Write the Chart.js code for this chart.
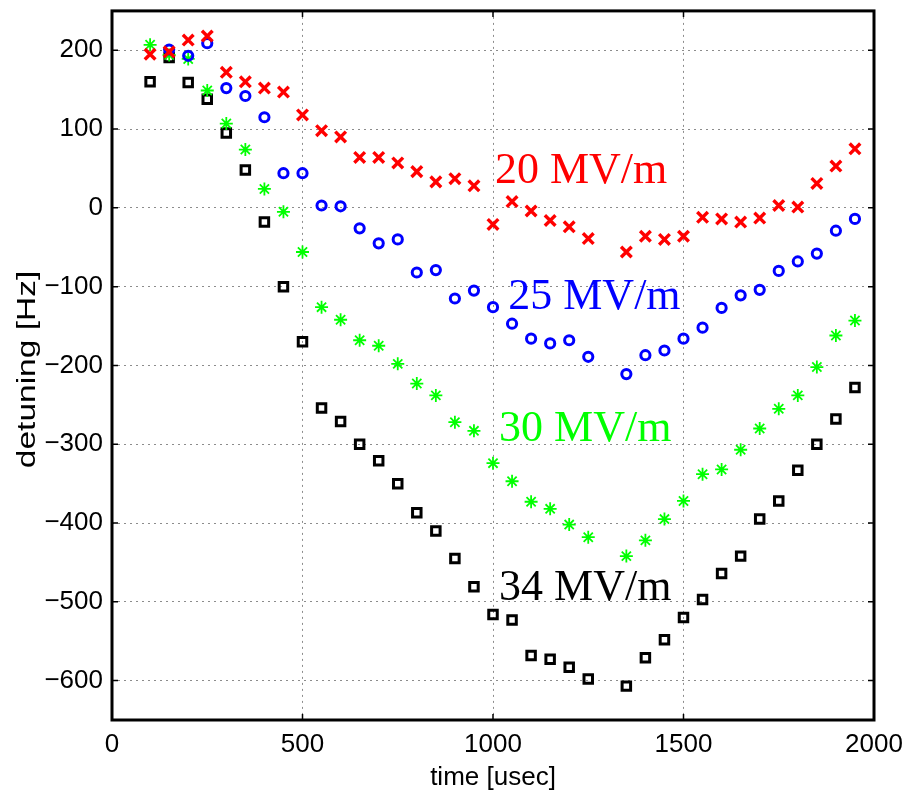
<!DOCTYPE html>
<html>
<head>
<meta charset="utf-8">
<script src="https://cdn.jsdelivr.net/npm/chart.js@4.4.0/dist/chart.umd.min.js"></script>
<style>
  html, body { margin: 0; padding: 0; background: #fff; }
  #wrap { width: 907px; height: 797px; }
</style>
</head>
<body>
<div id="wrap"><canvas id="chart" width="907" height="797"></canvas></div>
<script>
// time axis (usec) - note there is no sample at 1300
const times = [100, 150, 200, 250, 300, 350, 400, 450, 500, 550, 600, 650, 700, 750, 800, 850, 900, 950,
               1000, 1050, 1100, 1150, 1200, 1250, 1350, 1400, 1450, 1500, 1550, 1600, 1650, 1700, 1750,
               1800, 1850, 1900, 1950];

const detune20 = [195, 198, 213, 218, 172, 160, 152, 147, 118, 98, 90, 64, 64, 57, 46, 33, 37, 28,
                  -21, 8, -4, -16, -24, -39, -56, -36, -40, -36, -12, -14, -18, -13, 3,
                  1, 31, 53, 75];
const detune25 = [null, 201, 193, 209, 152, 142, 115, 44, 44, 3, 2, -26, -45, -40, -82, -79, -115, -105,
                  -126, -147, -166, -172, -168, -189, -211, -187, -181, -166, -152, -127, -111, -104, -80,
                  -68, -58, -29, -14];
const detune30 = [207, 194, 189, 149, 107, 74, 24, -5, -56, -126, -142, -168, -175, -198, -223, -238, -272, -283,
                  -324, -347, -373, -382, -402, -418, -442, -422, -395, -372, -338, -332, -307, -280, -255,
                  -238, -202, -162, -143];
const detune34 = [160, 191, 159, 138, 95, 48, -18, -100, -170, -254, -271, -300, -321, -350, -387, -410, -445, -481,
                  -516, -523, -568, -573, -583, -598, -607, -571, -548, -520, -497, -464, -442, -395, -372,
                  -333, -300, -268, -228];

const seriesNames = ['20 MV/m', '25 MV/m', '30 MV/m', '34 MV/m'];
const xTicks = [0, 500, 1000, 1500, 2000];
const yTicks = [-600, -500, -400, -300, -200, -100, 0, 100, 200];

// where the field labels sit, in data units (left edge, baseline)
const labelAt = [[1005, 32], [1040, -128], [1016, -296], [1016, -498]];

const colors = ['#ff0000', '#0000ff', '#00ff00', '#000000'];

function pts(vals) {
    return times.map((t, i) => ({ x: t, y: vals[i] }));
}

const tickFont = { family: "'Liberation Sans', Arial, sans-serif", size: 26 };

const boxPlugin = {
    id: 'matlabBox',
    afterDraw(chart) {
        const ctx = chart.ctx;
        const a = chart.chartArea;
        const xs = chart.scales.x, ys = chart.scales.y;
        ctx.save();
        ctx.strokeStyle = '#000';
        ctx.lineWidth = 1.5;
        const tl = 6;
        ctx.beginPath();
        xTicks.forEach(v => {
            const px = xs.getPixelForValue(v);
            ctx.moveTo(px, a.bottom); ctx.lineTo(px, a.bottom - tl);
            ctx.moveTo(px, a.top); ctx.lineTo(px, a.top + tl);
        });
        yTicks.forEach(v => {
            const py = ys.getPixelForValue(v);
            ctx.moveTo(a.left, py); ctx.lineTo(a.left + tl, py);
            ctx.moveTo(a.right, py); ctx.lineTo(a.right - tl, py);
        });
        ctx.stroke();
        ctx.lineWidth = 3;
        ctx.strokeRect(a.left, a.top, a.right - a.left, a.bottom - a.top);

        // field labels
        ctx.font = "44px 'Liberation Serif', 'Times New Roman', serif";
        ctx.textBaseline = 'alphabetic';
        ctx.textAlign = 'left';
        seriesNames.forEach((name, i) => {
            ctx.fillStyle = colors[i];
            ctx.fillText(name, xs.getPixelForValue(labelAt[i][0]), ys.getPixelForValue(labelAt[i][1]));
        });

        // y axis title (stretched like the source picture)
        ctx.fillStyle = '#000';
        ctx.font = "25px 'Liberation Sans', Arial, sans-serif";
        ctx.textAlign = 'center';
        ctx.translate(35, (a.top + a.bottom) / 2 + 4);
        ctx.rotate(-Math.PI / 2);
        ctx.scale(1.34, 1);
        ctx.fillText('detuning [Hz]', 0, 0);
        ctx.restore();
    }
};

new Chart(document.getElementById('chart'), {
    type: 'scatter',
    data: {
        datasets: [
            { label: seriesNames[0], data: pts(detune20), pointStyle: 'crossRot', radius: 7.5,
              borderColor: colors[0], borderWidth: 3.4, backgroundColor: colors[0] },
            { label: seriesNames[1], data: pts(detune25), pointStyle: 'circle', radius: 4.6,
              borderColor: colors[1], borderWidth: 3, backgroundColor: 'rgba(0,0,0,0)' },
            { label: seriesNames[2], data: pts(detune30), pointStyle: 'star', radius: 6.5,
              borderColor: colors[2], borderWidth: 1.8, backgroundColor: colors[2] },
            { label: seriesNames[3], data: pts(detune34), pointStyle: 'rect', radius: 6,
              borderColor: colors[3], borderWidth: 3, backgroundColor: 'rgba(0,0,0,0)' }
        ]
    },
    options: {
        responsive: false,
        animation: false,
        layout: { padding: { top: 7, right: 33, left: 0, bottom: 0 } },
        plugins: { legend: { display: false }, tooltip: { enabled: false } },
        elements: { point: { hoverRadius: 7 } },
        scales: {
            x: {
                type: 'linear', min: 0, max: 2000,
                afterBuildTicks: s => { s.ticks = xTicks.map(v => ({ value: v })); },
                afterFit: s => { s.height = 77; s.paddingLeft = 0; s.paddingRight = 0; },
                ticks: { color: '#000', font: tickFont, padding: 9, maxRotation: 0,
                         callback: v => String(v) },
                grid: { color: '#8c8c8c', lineWidth: 1, drawTicks: false },
                border: { display: false, dash: [2, 4] },
                title: { display: true, text: 'time [usec]', color: '#000', font: tickFont,
                         padding: { top: 0, bottom: 4 } }
            },
            y: {
                type: 'linear', min: -650, max: 250,
                afterBuildTicks: s => { s.ticks = yTicks.map(v => ({ value: v })); },
                afterFit: s => { s.width = 112; s.paddingTop = 0; s.paddingBottom = 0; },
                ticks: { color: '#000', font: tickFont, padding: 9,
                         callback: v => (v < 0 ? '\u2212' + Math.abs(v) : String(v)) },
                grid: { color: '#8c8c8c', lineWidth: 1, drawTicks: false },
                border: { display: false, dash: [2, 4] }
            }
        }
    },
    plugins: [boxPlugin]
});
</script>
</body>
</html>
